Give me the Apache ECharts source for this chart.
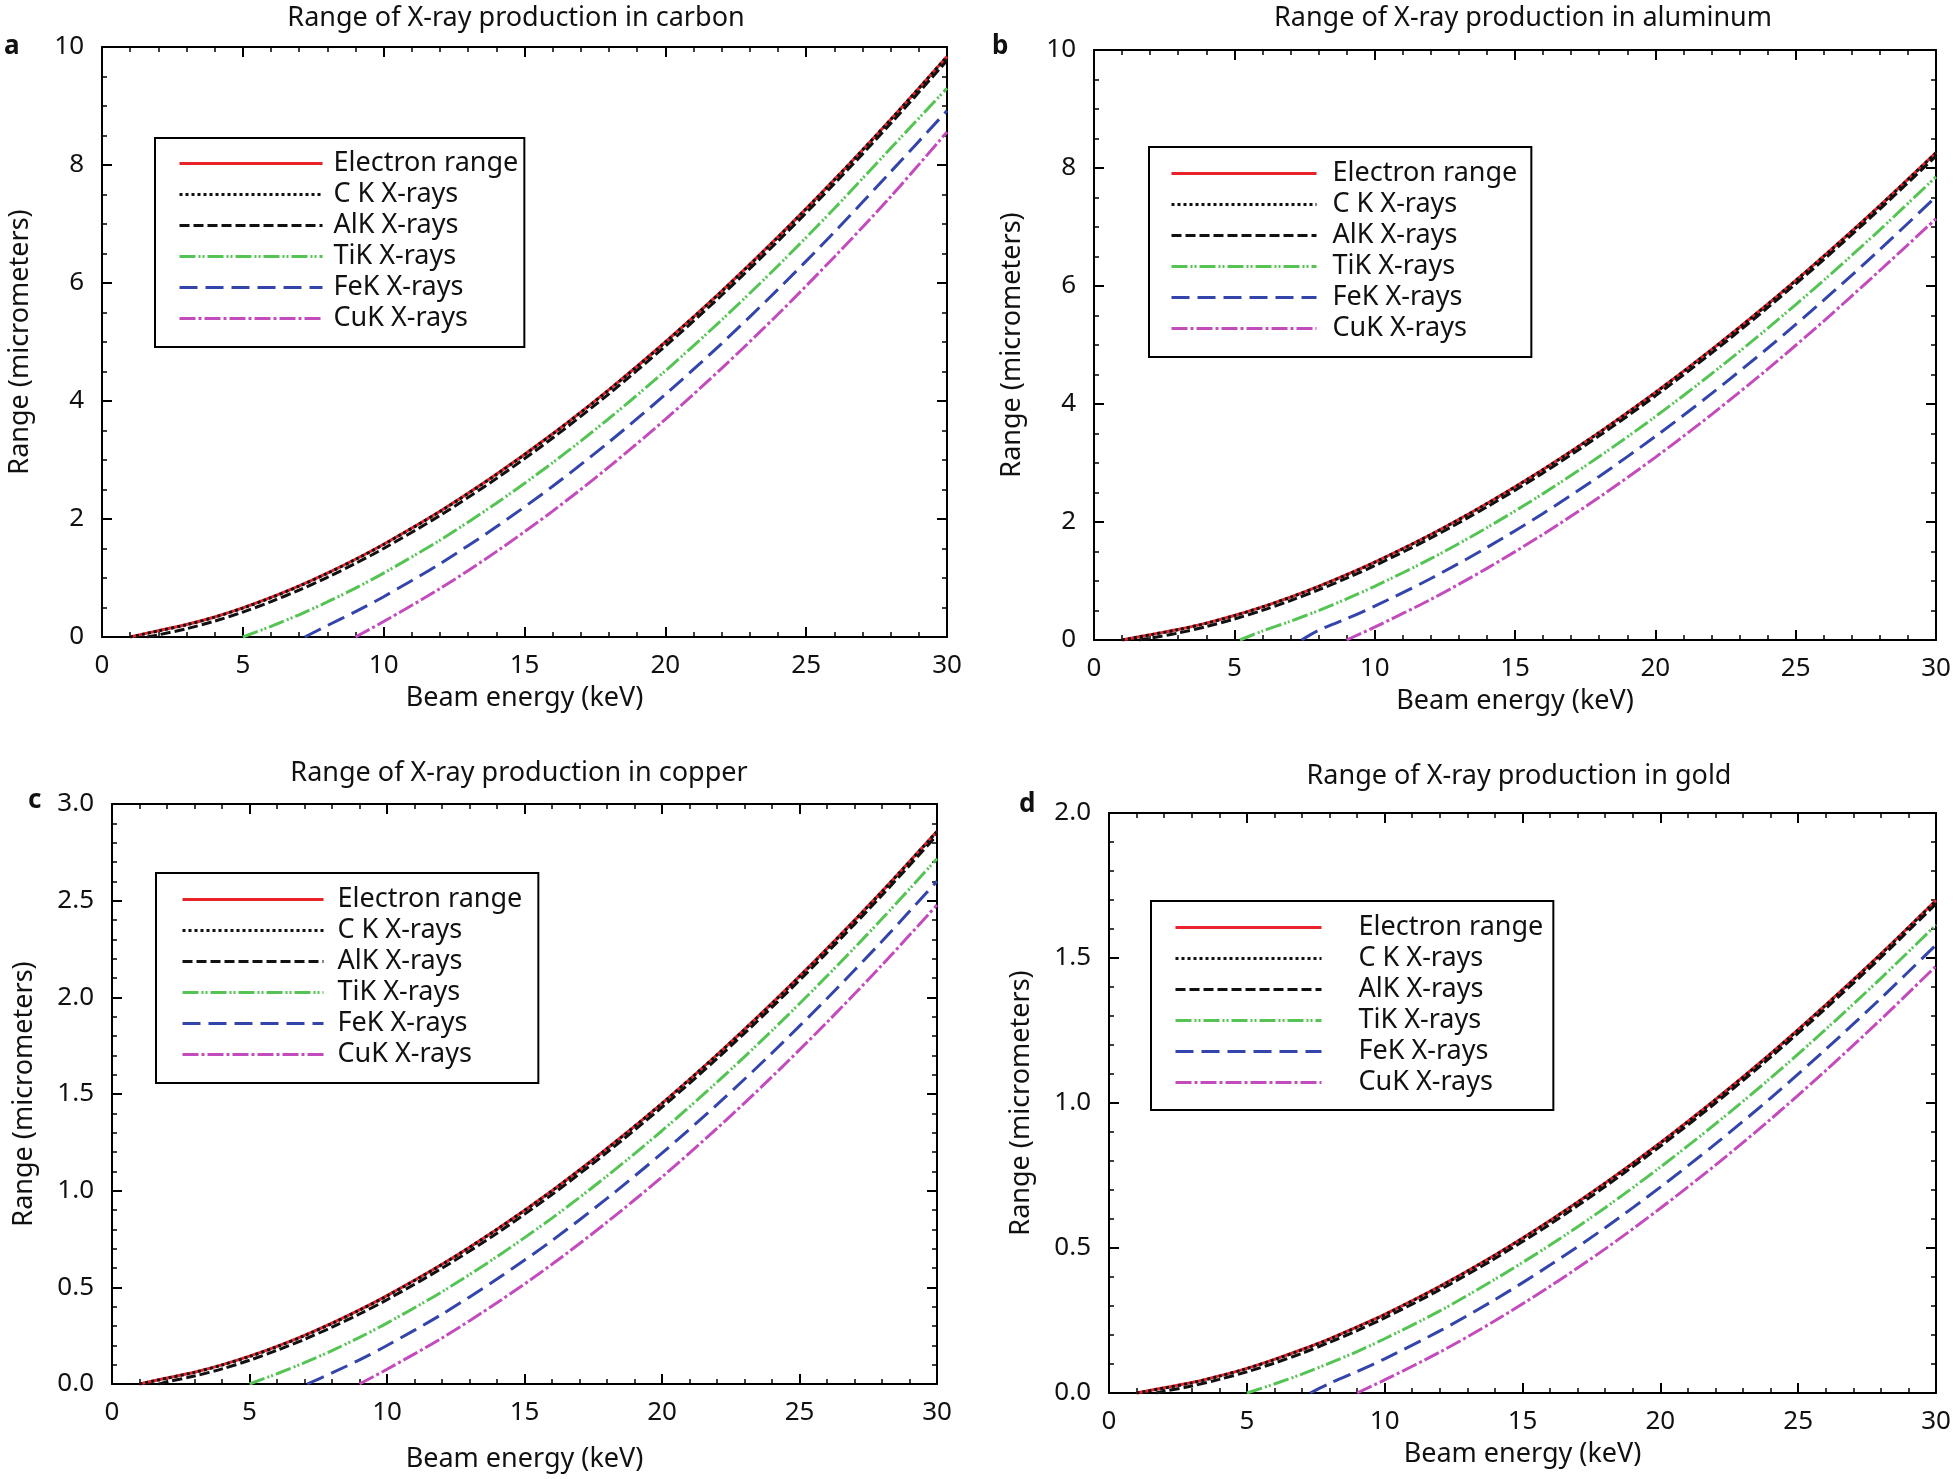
<!DOCTYPE html>
<html><head><meta charset="utf-8">
<script src="https://cdn.jsdelivr.net/npm/echarts@6/dist/echarts.min.js"></script>
<style>html,body{margin:0;padding:0;background:#fff}#c{width:1956px;height:1479px}</style>
</head><body><div id="c"></div>
<script>
const seriesNames = ['Electron range', 'C K X-rays', 'AlK X-rays', 'TiK X-rays', 'FeK X-rays', 'CuK X-rays'];
const panelTitles = ['Range of X-ray production in carbon', 'Range of X-ray production in aluminum',
  'Range of X-ray production in copper', 'Range of X-ray production in gold'];
const panelLetters = ['a', 'b', 'c', 'd'];
const xAxisName = 'Beam energy (keV)';
const yAxisName = 'Range (micrometers)';
const yMaxes = [10, 10, 3, 2];
const yIntervals = [2, 2, 0.5, 0.5];

// carbon
const carbonElectron = [[1,0],[2,0.107],[3,0.211],[4,0.340],[5,0.494],[6,0.670],[7,0.866],[8,1.083],[9,1.318],[10,1.572],[12,2.131],[14,2.757],[16,3.444],[18,4.193],[20,5.000],[22,5.863],[24,6.781],[26,7.752],[28,8.773],[30,9.841]];
const carbonCK = [[1,0],[2,0.103],[3,0.207],[4,0.336],[5,0.490],[6,0.666],[7,0.862],[8,1.079],[9,1.314],[10,1.568],[12,2.127],[14,2.753],[16,3.440],[18,4.189],[20,4.996],[22,5.859],[24,6.777],[26,7.748],[28,8.769],[30,9.837]];
const carbonAlK = [[1.6,0],[2,0.036],[3,0.140],[4,0.269],[5,0.423],[6,0.599],[7,0.795],[8,1.012],[9,1.247],[10,1.501],[12,2.060],[14,2.686],[16,3.373],[18,4.122],[20,4.929],[22,5.792],[24,6.710],[26,7.681],[28,8.702],[30,9.770]];
const carbonTiK = [[5,0],[6,0.181],[7,0.377],[8,0.594],[9,0.829],[10,1.083],[12,1.642],[14,2.268],[16,2.955],[18,3.704],[20,4.511],[22,5.374],[24,6.292],[26,7.263],[28,8.284],[30,9.300]];
const carbonFeK = [[7.2,0],[8,0.194],[9,0.429],[10,0.683],[12,1.242],[14,1.868],[16,2.555],[18,3.304],[20,4.111],[22,4.974],[24,5.892],[26,6.863],[28,7.884],[30,8.920]];
const carbonCuK = [[9,0],[10,0.262],[12,0.821],[14,1.447],[16,2.134],[18,2.883],[20,3.690],[22,4.553],[24,5.471],[26,6.442],[28,7.463],[30,8.560]];
// aluminum
const aluminumElectron = [[1,0],[2,0.090],[3,0.177],[4,0.286],[5,0.415],[6,0.562],[7,0.727],[8,0.909],[9,1.106],[10,1.319],[12,1.788],[14,2.314],[16,2.891],[18,3.519],[20,4.196],[22,4.921],[24,5.691],[26,6.506],[28,7.363],[30,8.260]];
const aluminumCK = [[1,0],[2,0.087],[3,0.174],[4,0.283],[5,0.412],[6,0.559],[7,0.724],[8,0.906],[9,1.103],[10,1.316],[12,1.785],[14,2.311],[16,2.888],[18,3.516],[20,4.193],[22,4.918],[24,5.688],[26,6.503],[28,7.360],[30,8.257]];
const aluminumAlK = [[1.6,0],[2,0.031],[3,0.118],[4,0.227],[5,0.356],[6,0.503],[7,0.668],[8,0.850],[9,1.047],[10,1.260],[12,1.729],[14,2.255],[16,2.832],[18,3.460],[20,4.137],[22,4.862],[24,5.632],[26,6.447],[28,7.304],[30,8.201]];
const aluminumTiK = [[5.2,0],[6,0.152],[7,0.317],[8,0.499],[9,0.696],[10,0.909],[12,1.378],[14,1.904],[16,2.481],[18,3.109],[20,3.786],[22,4.511],[24,5.281],[26,6.096],[28,6.953],[30,7.850]];
const aluminumFeK = [[7.4,0],[8,0.163],[9,0.360],[10,0.573],[12,1.042],[14,1.568],[16,2.145],[18,2.773],[20,3.450],[22,4.175],[24,4.945],[26,5.760],[28,6.617],[30,7.514]];
const aluminumCuK = [[9,0],[10,0.219],[12,0.688],[14,1.214],[16,1.791],[18,2.419],[20,3.096],[22,3.821],[24,4.591],[26,5.406],[28,6.263],[30,7.140]];
// copper
const copperElectron = [[1,0],[2,0.031],[3,0.061],[4,0.099],[5,0.144],[6,0.195],[7,0.252],[8,0.315],[9,0.383],[10,0.457],[12,0.619],[14,0.801],[16,1.000],[18,1.218],[20,1.452],[22,1.703],[24,1.970],[26,2.252],[28,2.548],[30,2.859]];
const copperCK = [[1,0],[2,0.030],[3,0.060],[4,0.098],[5,0.142],[6,0.193],[7,0.250],[8,0.313],[9,0.382],[10,0.455],[12,0.618],[14,0.800],[16,0.999],[18,1.217],[20,1.451],[22,1.702],[24,1.968],[26,2.250],[28,2.547],[30,2.857]];
const copperAlK = [[1.7,0],[2,0.011],[3,0.041],[4,0.078],[5,0.123],[6,0.174],[7,0.231],[8,0.294],[9,0.362],[10,0.436],[12,0.599],[14,0.780],[16,0.980],[18,1.198],[20,1.432],[22,1.683],[24,1.949],[26,2.231],[28,2.528],[30,2.838]];
const copperTiK = [[5,0],[6,0.053],[7,0.110],[8,0.173],[9,0.241],[10,0.315],[12,0.477],[14,0.659],[16,0.858],[18,1.076],[20,1.310],[22,1.561],[24,1.828],[26,2.110],[28,2.406],[30,2.717]];
const copperFeK = [[7.1,0],[8,0.057],[9,0.125],[10,0.199],[12,0.361],[14,0.543],[16,0.742],[18,0.960],[20,1.194],[22,1.445],[24,1.712],[26,1.994],[28,2.290],[30,2.601]];
const copperCuK = [[9,0],[10,0.076],[12,0.238],[14,0.420],[16,0.619],[18,0.837],[20,1.071],[22,1.322],[24,1.589],[26,1.871],[28,2.167],[30,2.478]];
// gold
const goldElectron = [[1,0],[2,0.018],[3,0.036],[4,0.059],[5,0.085],[6,0.116],[7,0.150],[8,0.187],[9,0.228],[10,0.271],[12,0.368],[14,0.476],[16,0.595],[18,0.724],[20,0.863],[22,1.012],[24,1.170],[26,1.338],[28,1.514],[30,1.699]];
const goldCK = [[1,0],[2,0.017],[3,0.035],[4,0.058],[5,0.084],[6,0.115],[7,0.149],[8,0.186],[9,0.227],[10,0.270],[12,0.367],[14,0.475],[16,0.594],[18,0.723],[20,0.862],[22,1.011],[24,1.169],[26,1.337],[28,1.513],[30,1.698]];
const goldAlK = [[1.7,0],[2,0.006],[3,0.024],[4,0.047],[5,0.073],[6,0.103],[7,0.137],[8,0.175],[9,0.215],[10,0.259],[12,0.356],[14,0.464],[16,0.582],[18,0.712],[20,0.851],[22,1.000],[24,1.158],[26,1.326],[28,1.502],[30,1.687]];
const goldTiK = [[5,0],[6,0.031],[7,0.065],[8,0.103],[9,0.143],[10,0.187],[12,0.283],[14,0.392],[16,0.510],[18,0.639],[20,0.779],[22,0.928],[24,1.086],[26,1.254],[28,1.430],[30,1.614]];
const goldFeK = [[7.3,0],[8,0.033],[9,0.074],[10,0.118],[12,0.214],[14,0.322],[16,0.441],[18,0.570],[20,0.710],[22,0.859],[24,1.017],[26,1.185],[28,1.361],[30,1.545]];
const goldCuK = [[9,0],[10,0.045],[12,0.141],[14,0.249],[16,0.368],[18,0.497],[20,0.637],[22,0.786],[24,0.944],[26,1.112],[28,1.288],[30,1.472]];

const panelData = [
  [carbonElectron, carbonCK, carbonAlK, carbonTiK, carbonFeK, carbonCuK],
  [aluminumElectron, aluminumCK, aluminumAlK, aluminumTiK, aluminumFeK, aluminumCuK],
  [copperElectron, copperCK, copperAlK, copperTiK, copperFeK, copperCuK],
  [goldElectron, goldCK, goldAlK, goldTiK, goldFeK, goldCuK]
];

// ---------- layout & style ----------
const FONT = 'Noto Sans';
const grids = [
  {left: 102, top: 47, width: 845, height: 590},
  {left: 1094, top: 50, width: 842, height: 590},
  {left: 112, top: 804, width: 825, height: 580},
  {left: 1109, top: 813, width: 827, height: 580}
];
const titlePos = [[511, 0], [1518, 0], [514, 755], [1514, 758]];
const letterPos = [[4, 34], [992, 34], [28, 788], [1019, 792]];
const xNameGap = [48, 48, 62, 48];
const yNameGap = [68, 68, 74, 74];
const legendLayout = [
  {left: 155, top: 138, padding: [12, 6, 15, 23], itemWidth: 143, textPad: 6},
  {left: 1149, top: 147, padding: [13, 14, 15, 21], itemWidth: 145, textPad: 11},
  {left: 156, top: 873, padding: [13, 16, 15, 25], itemWidth: 141, textPad: 9},
  {left: 1151, top: 901, padding: [13, 10, 14, 23], itemWidth: 146, textPad: 32}
];
const lineStyles = [
  {color: '#e8232b', width: 3, type: 'solid'},
  {color: '#111111', width: 3, type: [3, 3]},
  {color: '#111111', width: 3, type: [10, 4]},
  {color: '#55c455', width: 3, type: [16, 3, 2, 2, 2, 3]},
  {color: '#3344aa', width: 3, type: [18, 8]},
  {color: '#c24cbc', width: 3, type: [16, 3, 3, 3]}
];

const option = {
  backgroundColor: '#ffffff',
  animation: false,
  textStyle: {fontFamily: FONT},
  title: [], grid: [], xAxis: [], yAxis: [], legend: [], series: [], graphic: []
};

const axisCommon = {
  axisLine: {show: true, onZero: false, lineStyle: {color: '#000', width: 2}},
  axisTick: {show: true, inside: true, length: 10, lineStyle: {color: '#000', width: 2}},
  minorTick: {show: true, splitNumber: 5, length: 5, lineStyle: {color: '#000', width: 1.5}},
  splitLine: {show: false}
};

for (let p = 0; p < 4; p++) {
  option.grid.push(Object.assign({containLabel: false}, grids[p]));
  option.title.push({
    text: panelTitles[p], left: titlePos[p][0], top: titlePos[p][1], textAlign: 'center',
    textStyle: {fontFamily: FONT, fontSize: 27, fontWeight: 'normal', color: '#111'}
  });
  option.graphic.push({
    type: 'text', left: letterPos[p][0], top: letterPos[p][1],
    style: {text: panelLetters[p], fontFamily: FONT, fontSize: 26, fontWeight: 'bold', fill: '#111'}
  });
  const fmt = yIntervals[p] < 1 ? (v => v.toFixed(1)) : (v => String(v));
  const xBase = {type: 'value', gridIndex: p, min: 0, max: 30, interval: 5};
  option.xAxis.push(Object.assign({}, axisCommon, xBase, {
    position: 'bottom', name: xAxisName, nameLocation: 'middle', nameGap: xNameGap[p],
    nameTextStyle: {fontFamily: FONT, fontSize: 27, color: '#111'},
    axisLabel: {margin: 16, fontFamily: FONT, fontSize: 26, color: '#111'}
  }));
  option.xAxis.push(Object.assign({}, axisCommon, xBase, {position: 'top', axisLabel: {show: false}}));
  const yBase = {type: 'value', gridIndex: p, min: 0, max: yMaxes[p], interval: yIntervals[p]};
  const yMinor = Object.assign({}, axisCommon.minorTick, {splitNumber: yIntervals[p] < 1 ? 5 : 4});
  option.yAxis.push(Object.assign({}, axisCommon, yBase, {
    position: 'left', name: yAxisName, nameLocation: 'middle', nameGap: yNameGap[p],
    nameTextStyle: {fontFamily: FONT, fontSize: 27, color: '#111'},
    minorTick: yMinor,
    axisLabel: {margin: 18, fontFamily: FONT, fontSize: 26, color: '#111', formatter: fmt}
  }));
  option.yAxis.push(Object.assign({}, axisCommon, yBase, {
    position: 'right', axisLabel: {show: false}, minorTick: yMinor
  }));
  const L = legendLayout[p];
  option.legend.push({
    orient: 'vertical', left: L.left, top: L.top, padding: L.padding,
    itemGap: 4, itemWidth: L.itemWidth, itemHeight: 14,
    borderColor: '#000', borderWidth: 2, backgroundColor: '#fff',
    itemStyle: {opacity: 0, borderWidth: 0},
    lineStyle: {width: 3},
    data: seriesNames.map(n => ({name: n})),
    textStyle: {fontFamily: FONT, fontSize: 27, lineHeight: 26, color: '#111', padding: [0, 0, 0, L.textPad]}
  });
  for (let s = 0; s < 6; s++) {
    option.series.push({
      type: 'line', name: seriesNames[s], xAxisIndex: 2 * p, yAxisIndex: 2 * p,
      data: panelData[p][s], smooth: 0.3, symbol: 'none', showSymbol: false,
      lineStyle: lineStyles[s], itemStyle: {color: lineStyles[s].color},
      z: 2 + s
    });
  }
}

const chart = echarts.init(document.getElementById('c'), null, {renderer: 'canvas'});
chart.setOption(option);
</script></body></html>
